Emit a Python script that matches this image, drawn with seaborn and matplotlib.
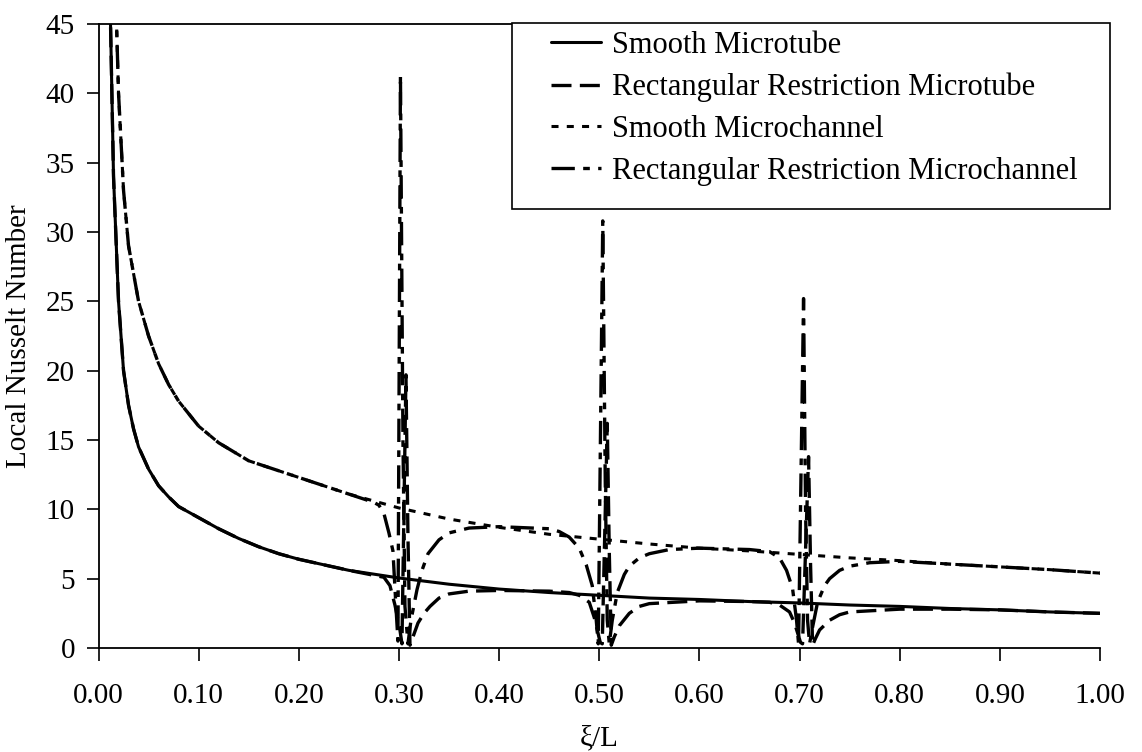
import numpy as np
import pandas as pd
import matplotlib
matplotlib.use("Agg")
import matplotlib.pyplot as plt
from matplotlib.patches import Rectangle
import seaborn as sns

# ---------------- data ----------------
x_smooth_tube = [0.008, 0.012, 0.015, 0.02, 0.025, 0.03, 0.035, 0.04, 0.05, 0.06, 0.07,
                 0.08, 0.09, 0.10, 0.12, 0.14, 0.16, 0.18, 0.20, 0.25, 0.30, 0.35,
                 0.40, 0.45, 0.50, 0.55, 0.60, 0.65, 0.70, 0.75, 0.80, 0.85, 0.90,
                 0.95, 1.00]
y_smooth_tube = [55, 45, 34, 25, 20, 17.5, 15.8, 14.5, 12.9, 11.7, 10.9,
                 10.2, 9.8, 9.4, 8.6, 7.9, 7.3, 6.8, 6.4, 5.6, 5.05, 4.6,
                 4.25, 4.0, 3.8, 3.6, 3.5, 3.35, 3.25, 3.1, 3.0, 2.85, 2.75,
                 2.6, 2.5]

x_restr_tube = [0.008, 0.012, 0.015, 0.02, 0.025, 0.03, 0.035, 0.04, 0.05, 0.06, 0.07,
                0.08, 0.09, 0.10, 0.12, 0.14, 0.16, 0.18, 0.20, 0.25, 0.285,
                0.291, 0.296, 0.301, 0.303, 0.307, 0.309, 0.311, 0.315, 0.319,
                0.325, 0.331, 0.34, 0.35, 0.37, 0.40, 0.45, 0.47, 0.48, 0.49,
                0.495, 0.501, 0.503, 0.508, 0.510, 0.512, 0.515, 0.52, 0.53,
                0.54, 0.55, 0.60, 0.65, 0.67, 0.68, 0.69, 0.695, 0.701, 0.703,
                0.709, 0.711, 0.713, 0.716, 0.72, 0.73, 0.74, 0.75, 0.80, 0.85,
                0.90, 0.95, 1.00]
y_restr_tube = [55, 45, 34, 25, 20, 17.5, 15.8, 14.5, 12.9, 11.7, 10.9,
                10.2, 9.8, 9.4, 8.6, 7.9, 7.3, 6.8, 6.4, 5.6, 5.1,
                4.5, 3.1, 1.3, 0.3, 19.7, 8.0, 0.2, 1.0, 1.8,
                2.5, 3.0, 3.6, 3.9, 4.1, 4.15, 4.1, 4.0, 3.8, 3.3,
                2.2, 0.4, 0.3, 16.2, 7.0, 0.2, 0.8, 1.6, 2.5,
                3.0, 3.2, 3.4, 3.35, 3.3, 3.1, 2.6, 1.8, 0.4, 0.3,
                13.8, 6.0, 0.2, 0.7, 1.3, 2.0, 2.4, 2.6, 2.8, 2.8,
                2.75, 2.6, 2.5]

x_smooth_chan = [0.014, 0.018, 0.02, 0.025, 0.03, 0.04, 0.05, 0.06, 0.07, 0.08, 0.10,
                 0.12, 0.15, 0.20, 0.25, 0.30, 0.35, 0.40, 0.45, 0.50, 0.55, 0.60,
                 0.65, 0.70, 0.75, 0.80, 0.85, 0.90, 0.95, 1.00]
y_smooth_chan = [55, 45, 40, 33, 29, 25, 22.5, 20.5, 19.0, 17.8, 16.0,
                 14.8, 13.5, 12.3, 11.1, 10.1, 9.3, 8.7, 8.2, 7.85, 7.5, 7.2,
                 7.0, 6.75, 6.5, 6.3, 6.05, 5.85, 5.65, 5.4]

x_restr_chan = [0.014, 0.018, 0.02, 0.025, 0.03, 0.04, 0.05, 0.06, 0.07, 0.08, 0.10,
                0.12, 0.15, 0.20, 0.25, 0.275, 0.28, 0.285, 0.29, 0.294, 0.297,
                0.299, 0.3015, 0.304, 0.306, 0.309, 0.312, 0.318, 0.323, 0.329,
                0.34, 0.35, 0.37, 0.40, 0.45, 0.46, 0.47, 0.48, 0.487, 0.493,
                0.497, 0.499, 0.5035, 0.506, 0.508, 0.51, 0.513, 0.518, 0.525,
                0.53, 0.54, 0.55, 0.57, 0.60, 0.65, 0.67, 0.68, 0.687, 0.693,
                0.697, 0.699, 0.704, 0.706, 0.708, 0.71, 0.713, 0.718, 0.725,
                0.73, 0.74, 0.75, 0.77, 0.80, 0.85, 0.90, 0.95, 1.00]
y_restr_chan = [55, 45, 40, 33, 29, 25, 22.5, 20.5, 19.0, 17.8, 16.0,
                14.8, 13.5, 12.3, 11.1, 10.5, 10.3, 9.7, 8.3, 7.0, 3.0,
                0.5, 41.3, 15.0, 3.0, 0.3, 2.0, 4.2, 5.6, 6.8,
                7.8, 8.3, 8.65, 8.75, 8.6, 8.4, 8.0, 7.2, 6.0, 4.5,
                2.0, 0.3, 30.8, 12.0, 2.0, 0.3, 2.0, 4.0, 5.3,
                5.9, 6.5, 6.8, 7.1, 7.2, 7.1, 6.95, 6.5, 5.6, 4.3,
                2.0, 0.3, 25.2, 10.0, 2.0, 0.3, 1.5, 3.3, 4.5,
                5.0, 5.6, 5.9, 6.15, 6.25, 6.05, 5.85, 5.65, 5.4]

labels = ["Smooth Microtube", "Rectangular Restriction Microtube",
          "Smooth Microchannel", "Rectangular Restriction Microchannel"]
x_ticks = [0.0, 0.1, 0.2, 0.3, 0.4, 0.5, 0.6, 0.7, 0.8, 0.9, 1.0]
y_ticks = [0, 5, 10, 15, 20, 25, 30, 35, 40, 45]

# ---------------- build table ----------------
frames = []
for lab, xs, ys in zip(labels,
                       [x_smooth_tube, x_restr_tube, x_smooth_chan, x_restr_chan],
                       [y_smooth_tube, y_restr_tube, y_smooth_chan, y_restr_chan]):
    frames.append(pd.DataFrame({"xi": xs, "Nu": ys, "series": lab}))
df = pd.concat(frames, ignore_index=True)

# ---------------- style ----------------
sns.set_theme(style="ticks")
plt.rcParams["font.family"] = ["Liberation Serif", "DejaVu Serif"]

W, H = 1142, 752
fig = plt.figure(figsize=(W / 100, H / 100), dpi=100)
ax = fig.add_axes([98.5 / W, 1 - 648 / H, (1100 - 98.5) / W, (648 - 24) / H])

styles = {
    labels[0]: dict(ls="-", lw=2.2),
    labels[1]: dict(ls=(0, (6, 2.5)), lw=2.4),
    labels[2]: dict(ls=(0, (2.3, 2.7)), lw=2.2),
    labels[3]: dict(ls=(0, (7, 2.5, 2, 2.5)), lw=2.4),
}
for lab in labels:
    sub = df[df["series"] == lab]
    sns.lineplot(data=sub, x="xi", y="Nu", ax=ax, color="black", label=lab,
                 sort=False, estimator=None, **styles[lab])

ax.set_xlim(0, 1.0)
ax.set_ylim(0, 45)
ax.set_xticks(x_ticks)
ax.set_xticklabels([f"{t:.2f}" for t in x_ticks])
ax.set_yticks(y_ticks)
ax.tick_params(axis="both", direction="out", length=9, width=1.2, colors="black",
               labelsize=21)
ax.tick_params(axis="x", pad=16)
ax.tick_params(axis="y", pad=8)
for s in ["left", "bottom", "top"]:
    ax.spines[s].set_color("black")
    ax.spines[s].set_linewidth(1.3)
ax.spines["right"].set_visible(False)

ax.set_xlabel("ξ/L", fontsize=21, color="black", labelpad=12)
ax.set_ylabel("Local Nusselt Number", fontsize=21, color="black", labelpad=10)

# legend box (frame drawn separately to get Excel-like padding)
box = Rectangle((512 / W, 1 - 209 / H), (1110 - 512) / W, (209 - 23) / H,
                transform=fig.transFigure, facecolor="white", edgecolor="black",
                lw=1.2, zorder=4.5, clip_on=False)
ax.add_patch(box)
leg = ax.legend(loc="upper left", bbox_to_anchor=(551 / W, 1 - 31 / H),
                bbox_transform=fig.transFigure, borderaxespad=0, borderpad=0,
                fontsize=22, handlelength=1.64, handletextpad=0.36,
                labelspacing=0.42, frameon=False)
leg.set_zorder(6)
for t in leg.get_texts():
    t.set_color("black")

fig.savefig("out.png", dpi=100, facecolor="white")
